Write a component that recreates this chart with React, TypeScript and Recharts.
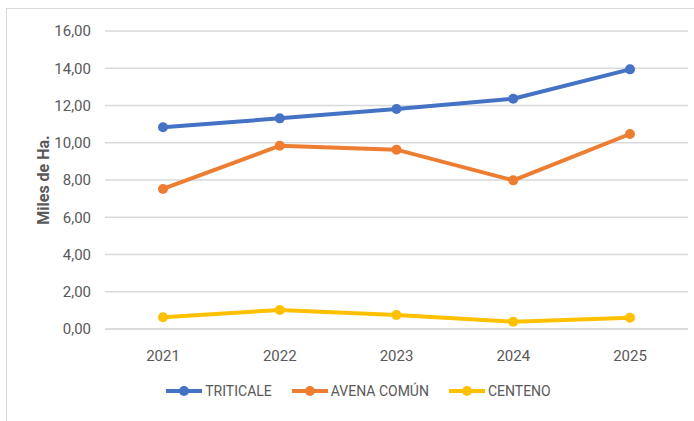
import React from "react";
import {
  LineChart,
  Line,
  XAxis,
  YAxis,
  CartesianGrid,
  Legend,
  Label,
} from "recharts";

const years = ["2021", "2022", "2023", "2024", "2025"];
const triticale = [10.83, 11.31, 11.81, 12.36, 13.94];
const avenaComun = [7.52, 9.84, 9.63, 7.98, 10.47];
const centeno = [0.63, 1.02, 0.75, 0.39, 0.61];
const yTicks = [0, 2, 4, 6, 8, 10, 12, 14, 16];

const series = [
  { key: "triticale", name: "TRITICALE", color: "#4472C4" },
  { key: "avena", name: "AVENA COMÚN", color: "#ED7D31" },
  { key: "centeno", name: "CENTENO", color: "#FFC000" },
];

const data = years.map((year, i) => ({
  year,
  triticale: triticale[i],
  avena: avenaComun[i],
  centeno: centeno[i],
}));

const FONT = "Roboto, sans-serif";

const fmt = (v: number) => v.toFixed(2).replace(".", ",");

const LegendContent = () => (
  <div style={{ display: "flex", justifyContent: "center", gap: 19, paddingLeft: 22, fontFamily: FONT, fontSize: 14, color: "#595959" }}>
    {series.map((s) => (
      <div key={s.key} style={{ display: "flex", alignItems: "center" }}>
        <svg width={38} height={12} style={{ marginRight: 2 }}>
          <line x1={1} y1={6} x2={37} y2={6} stroke={s.color} strokeWidth={4} />
          <circle cx={19} cy={6} r={5} fill={s.color} />
        </svg>
        <span>{s.name}</span>
      </div>
    ))}
  </div>
);

const App: React.FC = () => {
  return (
    <div style={{ position: "absolute", left: 0, top: 0, width: 694, height: 421, background: "#fff" }}>
      {/* marco del gráfico */}
      <div
        style={{
          position: "absolute",
          left: 6,
          top: 8,
          width: 700,
          height: 430,
          borderLeft: "1px solid #D9D9D9",
          borderTop: "1px solid #D9D9D9",
        }}
      />
      <div style={{ position: "absolute", left: 0, top: 0 }}>
        <LineChart
          width={694}
          height={421}
          data={data}
          margin={{ top: 31, right: 6, left: 45, bottom: 0 }}
        >
          <CartesianGrid vertical={false} stroke="#D9D9D9" strokeWidth={1.5} />
          <XAxis
            dataKey="year"
            padding={{ left: 58, right: 58 }}
            axisLine={{ stroke: "#D9D9D9", strokeWidth: 1.5 }}
            tickLine={false}
            tickSize={0}
            tickMargin={21}
            height={76}
            tick={{ fill: "#595959", fontSize: 15, fontFamily: FONT }}
          />
          <YAxis
            domain={[0, 16]}
            ticks={yTicks}
            width={60}
            axisLine={false}
            tickLine={false}
            tickSize={0}
            tickMargin={14}
            tickFormatter={fmt}
            tick={{ fill: "#595959", fontSize: 15, fontFamily: FONT }}
          >
            <Label
              value="Miles de Ha."
              angle={-90}
              position="insideLeft"
              offset={-2}
              style={{ fill: "#595959", fontSize: 16, fontWeight: 700, fontFamily: FONT, textAnchor: "middle" }}
            />
          </YAxis>
          <Legend
            content={<LegendContent />}
            wrapperStyle={{ top: 383, left: 0, width: 694 }}
          />
          {series.map((s) => (
            <Line
              key={s.key}
              type="linear"
              dataKey={s.key}
              name={s.name}
              stroke={s.color}
              strokeWidth={4}
              dot={{ r: 5, fill: s.color, stroke: s.color, strokeWidth: 0 }}
              activeDot={false}
              isAnimationActive={false}
            />
          ))}
        </LineChart>
      </div>
    </div>
  );
};

export default App;
